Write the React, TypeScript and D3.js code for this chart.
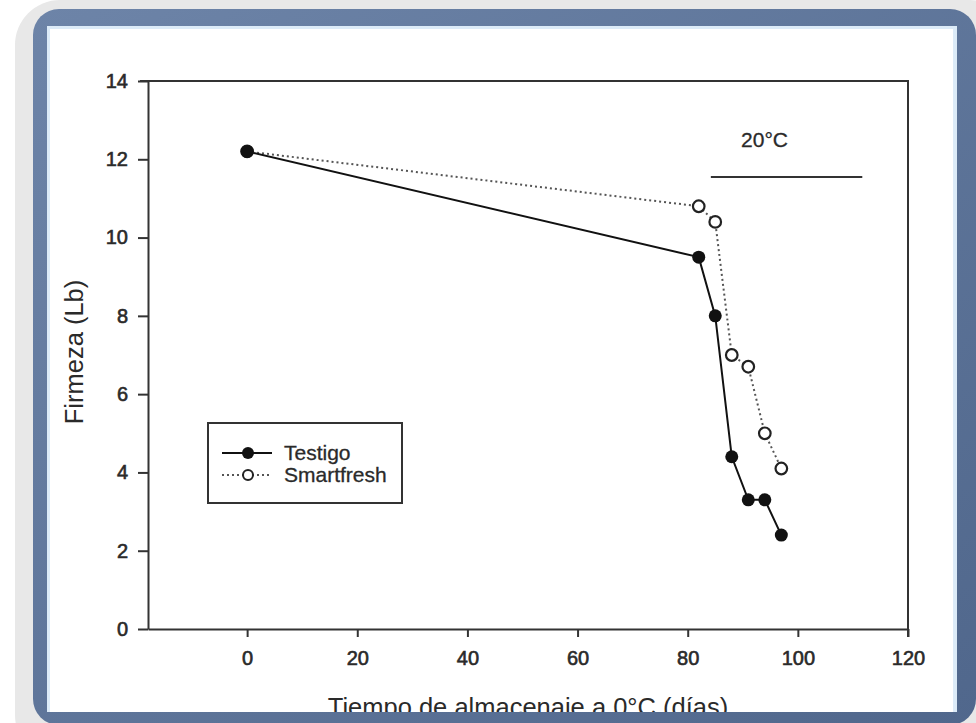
import React, { useEffect, useRef } from "react";
import * as d3 from "d3";

// storage days and firmness (Lb)
const days = [0, 82, 85, 88, 91, 94, 97];
const testigo = [12.2, 9.5, 8.0, 4.4, 3.3, 3.3, 2.4];
const smartfresh = [12.2, 10.8, 10.4, 7.0, 6.7, 5.0, 4.1];
const seriesNames = ["Testigo", "Smartfresh"];
const xTicks = [0, 20, 40, 60, 80, 100, 120];
const yTicks = [0, 2, 4, 6, 8, 10, 12, 14];
// 20°C shelf period marker
const warmDays = [84.2, 111.7];
const warmLevel = 11.55;
const warmLabel = "20°C";

const W = 976;
const H = 723;
const FONT = "'Liberation Sans', Arial, sans-serif";
const INK = "#2a2a2a";

export default function App() {
  const ref = useRef<SVGSVGElement>(null);

  useEffect(() => {
    const svg = d3.select(ref.current);
    svg.selectAll("*").remove();

    const defs = svg.append("defs");
    const g1 = defs.append("linearGradient").attr("id", "frameGrad").attr("x1", 0).attr("y1", 0).attr("x2", 1).attr("y2", 1);
    g1.append("stop").attr("offset", "0%").attr("stop-color", "#6d84a8");
    g1.append("stop").attr("offset", "100%").attr("stop-color", "#50678c");
    defs.append("clipPath").attr("id", "inner")
      .append("rect").attr("x", 47).attr("y", 26).attr("width", 910).attr("height", 686);

    // page + shadow + frame
    svg.append("rect").attr("width", W).attr("height", H).attr("fill", "#fff");
    svg.append("rect").attr("x", 15).attr("y", 0).attr("width", 1000).attr("height", 760)
      .attr("rx", 45).attr("fill", "#e8e8e8");
    svg.append("rect").attr("x", 33).attr("y", 9).attr("width", 943).attr("height", 716)
      .attr("rx", 26).attr("fill", "url(#frameGrad)");
    svg.append("rect").attr("x", 47).attr("y", 26).attr("width", 910).attr("height", 686)
      .attr("fill", "#dcebf8");
    svg.append("rect").attr("x", 50).attr("y", 29).attr("width", 903).attr("height", 683)
      .attr("fill", "#fff");

    const root = svg.append("g").attr("clip-path", "url(#inner)");

    const x = d3.scaleLinear().domain([-18, 120]).range([148, 908]);
    const y = d3.scaleLinear().domain([0, 14]).range([629, 81]);

    const axisColor = "#333";

    const xAxis = root.append("g").attr("transform", `translate(0,${y(0)})`)
      .call(d3.axisBottom(x).tickValues(xTicks).tickSize(8).tickPadding(14).tickSizeOuter(0));
    const yAxis = root.append("g").attr("transform", `translate(${x(-18)},0)`)
      .call(d3.axisLeft(y).tickValues(yTicks).tickSize(10).tickPadding(10).tickSizeOuter(0));
    [xAxis, yAxis].forEach((a) => {
      a.select(".domain").attr("stroke", axisColor).attr("stroke-width", 2);
      a.selectAll(".tick line").attr("stroke", axisColor).attr("stroke-width", 2);
      a.selectAll(".tick text").attr("fill", INK).attr("stroke", INK).attr("stroke-width", 0.6)
        .attr("font-family", FONT).attr("font-size", 20);
    });
    // top and right box edges
    root.append("path")
      .attr("d", `M${x(-18) - 8},${y(14)}H${x(120)}V${y(0) + 8}`)
      .attr("fill", "none").attr("stroke", axisColor).attr("stroke-width", 2);

    // axis titles
    root.append("text").attr("x", (x(-18) + x(120)) / 2 + 0).attr("y", 716)
      .attr("text-anchor", "middle").attr("font-family", FONT).attr("font-size", 25.5)
      .attr("fill", INK).text("Tiempo de almacenaje a 0°C (días)");
    root.append("text").attr("transform", `translate(83,${(y(0) + y(14)) / 2 - 3}) rotate(-90)`)
      .attr("text-anchor", "middle").attr("font-family", FONT).attr("font-size", 25.5)
      .attr("fill", INK).text("Firmeza (Lb)");

    // 20°C marker
    root.append("line").attr("x1", x(warmDays[0])).attr("x2", x(warmDays[1]))
      .attr("y1", y(warmLevel)).attr("y2", y(warmLevel))
      .attr("stroke", "#333").attr("stroke-width", 2);
    root.append("text").attr("x", (x(warmDays[0]) + x(warmDays[1])) / 2 - 22).attr("y", 147)
      .attr("text-anchor", "middle").attr("font-family", FONT).attr("font-size", 21)
      .attr("fill", INK).attr("stroke", INK).attr("stroke-width", 0.3).text(warmLabel);

    const line = d3.line<number>().x((_, i) => x(days[i])).y((d) => y(d));

    root.append("path").datum(smartfresh).attr("d", line)
      .attr("fill", "none").attr("stroke", "#555").attr("stroke-width", 2).attr("stroke-dasharray", "2,3");
    root.append("path").datum(testigo).attr("d", line)
      .attr("fill", "none").attr("stroke", "#111").attr("stroke-width", 2);

    root.selectAll("circle.sf").data(smartfresh).enter().append("circle")
      .attr("cx", (_, i) => x(days[i])).attr("cy", (d) => y(d)).attr("r", 5.8)
      .attr("fill", "#fff").attr("stroke", "#222").attr("stroke-width", 2.2);
    root.selectAll("circle.t").data(testigo).enter().append("circle")
      .attr("cx", (_, i) => x(days[i])).attr("cy", (d) => y(d)).attr("r", 6.5)
      .attr("fill", "#111");

    // legend
    const lg = root.append("g");
    lg.append("rect").attr("x", 208).attr("y", 423).attr("width", 194).attr("height", 80)
      .attr("fill", "#fff").attr("stroke", "#333").attr("stroke-width", 2);
    seriesNames.forEach((name, i) => {
      const ly = 453 + i * 22;
      const open = i === 1;
      lg.append("line").attr("x1", 222).attr("x2", 272).attr("y1", ly).attr("y2", ly)
        .attr("stroke", open ? "#555" : "#111").attr("stroke-width", 2)
        .attr("stroke-dasharray", open ? "2,3" : null);
      lg.append("circle").attr("cx", 248).attr("cy", ly).attr("r", open ? 5 : 6)
        .attr("fill", open ? "#fff" : "#111").attr("stroke", "#222").attr("stroke-width", open ? 2 : 0);
      lg.append("text").attr("x", 284).attr("y", ly + 7).attr("font-family", FONT).attr("font-size", 21)
        .attr("fill", INK).attr("stroke", INK).attr("stroke-width", 0.3).text(name);
    });
  }, []);

  return (
    <svg ref={ref} width={W} height={H} style={{ position: "absolute", left: 0, top: 0 }} />
  );
}
